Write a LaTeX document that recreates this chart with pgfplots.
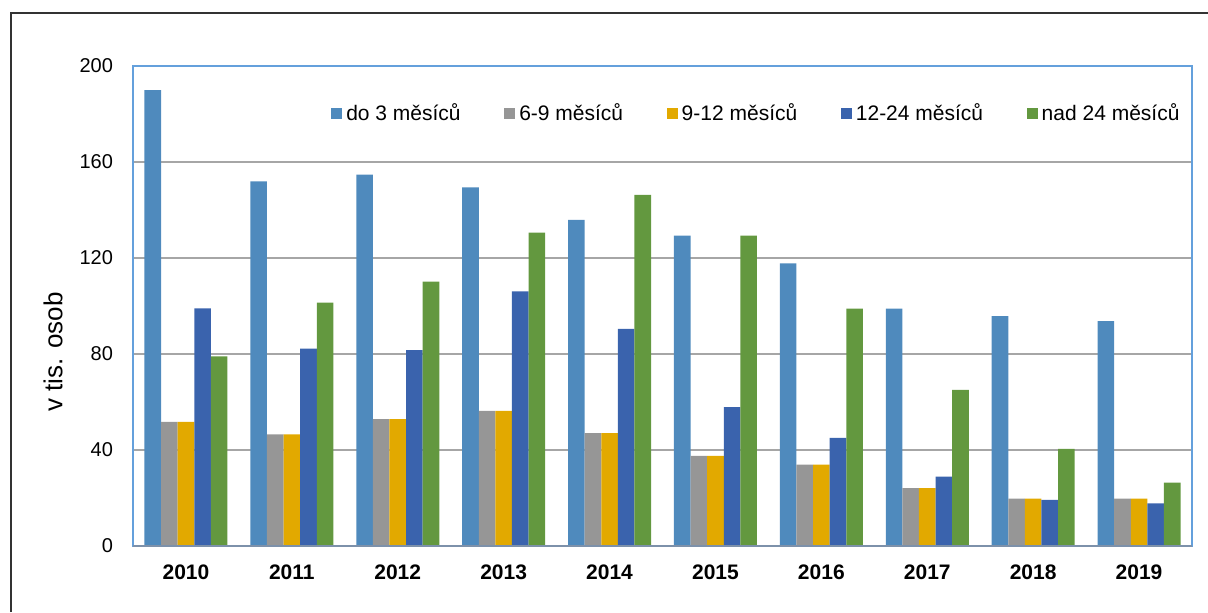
\documentclass[border=0pt]{standalone}
\usepackage{fontspec}
\setmainfont{Liberation Sans}
\usepackage{pgfplots}
\pgfplotsset{compat=1.18}
\definecolor{c1}{RGB}{79,138,189}
\definecolor{c2}{RGB}{150,150,150}
\definecolor{c3}{RGB}{226,169,0}
\definecolor{c4}{RGB}{58,99,173}
\definecolor{c5}{RGB}{99,152,63}
\definecolor{gridgray}{RGB}{166,166,166}
\definecolor{axblue}{RGB}{100,160,220}
\definecolor{botline}{RGB}{125,145,170}
\begin{document}
\begin{tikzpicture}
\useasboundingbox (0,0) rectangle (604pt,306pt);
\draw[line width=1pt, black!80] (5.3pt,0) -- (5.3pt,299.3pt) -- (604pt,299.3pt);
\begin{axis}[
 at={(66.5pt,33pt)}, anchor=south west,
 scale only axis, width=529.5pt, height=240pt,
 ybar=0pt, bar width=8.3pt,
 xmin=-0.5, xmax=9.5, ymin=0, ymax=200,
 xtick={0,1,2,3,4,5,6,7,8,9},
 xticklabels={2010,2011,2012,2013,2014,2015,2016,2017,2018,2019},
 ytick={0,40,80,120,160,200},
 major tick length=0pt,
 ymajorgrids, grid style={line width=0.75pt, color=gridgray},
 axis line style={line width=1pt, color=axblue},
 tick label style={font=\fontsize{10}{12}\selectfont},
 xticklabel style={font=\fontsize{10.5}{12}\selectfont\bfseries, yshift=-6pt},
 yticklabel style={xshift=-6.5pt},
 /pgf/number format/assume math mode=true,
 ylabel={v tis. osob},
 ylabel style={at={(axis description cs:-0.0755,0.404)}, anchor=center, font=\fontsize{13}{15}\selectfont},
 legend columns=5,
 legend style={draw=none, fill=none, at={(axis description cs:0.998,0.902)}, anchor=east,
   font=\fontsize{10.5}{12}\selectfont,
   /tikz/every even column/.append style={column sep=19.8pt}},
 every axis plot post/.append style={legend image code/.code={\fill[##1] (0pt,-2.75pt) rectangle (5.5pt,2.75pt);}},
]
\addplot[fill=c1, draw=none] coordinates {(0,190.0) (1,151.9) (2,154.7) (3,149.4) (4,135.9) (5,129.3) (6,117.8) (7,98.9) (8,95.8) (9,93.7)};
\addlegendentry{do 3 měsíců}
\addplot[fill=c2, draw=none] coordinates {(0,51.7) (1,46.5) (2,52.9) (3,56.3) (4,47.0) (5,37.6) (6,33.9) (7,24.1) (8,19.7) (9,19.7)};
\addlegendentry{6-9 měsíců}
\addplot[fill=c3, draw=none] coordinates {(0,51.7) (1,46.5) (2,52.9) (3,56.3) (4,47.0) (5,37.6) (6,33.9) (7,24.1) (8,19.7) (9,19.7)};
\addlegendentry{9-12 měsíců}
\addplot[fill=c4, draw=none] coordinates {(0,99.0) (1,82.2) (2,81.6) (3,106.1) (4,90.5) (5,57.9) (6,45.1) (7,28.9) (8,19.2) (9,17.8)};
\addlegendentry{12-24 měsíců}
\addplot[fill=c5, draw=none] coordinates {(0,79.0) (1,101.4) (2,110.2) (3,130.6) (4,146.3) (5,129.3) (6,98.9) (7,65.1) (8,40.5) (9,26.4)};
\addlegendentry{nad 24 měsíců}
\draw[line width=1pt, color=botline] (rel axis cs:0,0) -- (rel axis cs:1,0);
\end{axis}
\end{tikzpicture}
\end{document}
